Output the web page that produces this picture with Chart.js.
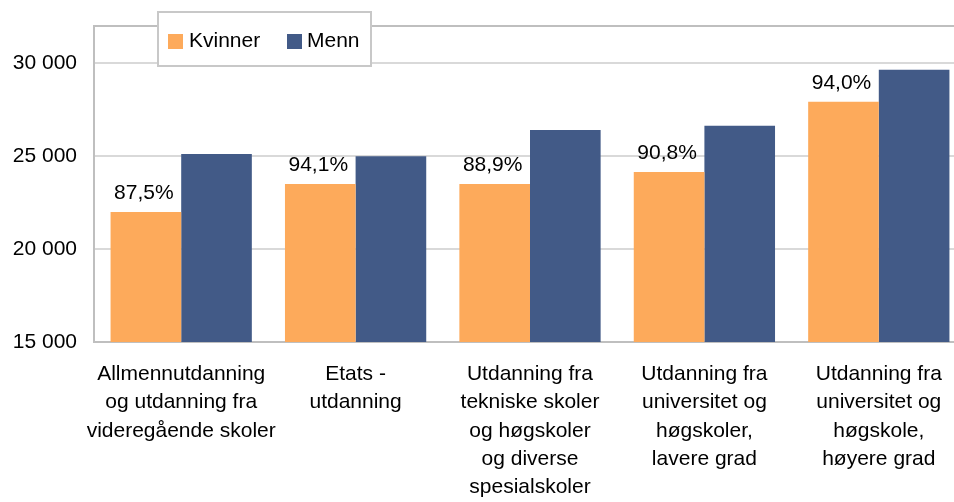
<!DOCTYPE html>
<html>
<head>
<meta charset="utf-8">
<script src="https://cdn.jsdelivr.net/npm/chart.js@4.4.0/dist/chart.umd.min.js"></script>
<style>
    html, body { margin: 0; padding: 0; background: #fff; overflow: hidden; }
    #wrap { width: 966px; height: 502px; }
</style>
</head>
<body>
<div id="wrap"><canvas id="chart"></canvas></div>
<script>
let categories = [
    ["Allmennutdanning", "og utdanning fra", "videregående skoler"],
    ["Etats -", "utdanning"],
    ["Utdanning fra", "tekniske skoler", "og høgskoler", "og diverse", "spesialskoler"],
    ["Utdanning fra", "universitet og", "høgskoler,", "lavere grad"],
    ["Utdanning fra", "universitet og", "høgskole,", "høyere grad"]
];
let kvinner = [22000, 23500, 23500, 24150, 27920];
let menn = [25120, 24990, 26410, 26630, 29650];
let shares = ["87,5%", "94,1%", "88,9%", "90,8%", "94,0%"];
let yTicks = [15000, 20000, 25000, 30000];
let yMin = 15000;
let yMax = 32000;

const FONT = '"Liberation Sans", Arial, sans-serif';
Chart.defaults.font.family = FONT;
Chart.defaults.font.size = 21;
Chart.defaults.color = "#000";

function fmt(v) {
    return String(v).replace(/\B(?=(\d{3})+(?!\d))/g, " ");
}

// percentage labels above the Kvinner bars
const shareLabels = {
    id: "shareLabels",
    afterDatasetsDraw(chart) {
        let ctx = chart.ctx;
        let meta = chart.getDatasetMeta(0);
        ctx.save();
        ctx.font = "21px " + FONT;
        ctx.fillStyle = "#000";
        ctx.textAlign = "center";
        ctx.textBaseline = "alphabetic";
        meta.data.forEach((bar, i) => {
            ctx.fillText(shares[i], bar.x - 2, bar.y - 13);
        });
        ctx.restore();
    }
};

// boxed legend that sits over the top of the plot frame
const boxLegend = {
    id: "boxLegend",
    afterDraw(chart) {
        let ctx = chart.ctx;
        let ds = chart.data.datasets;
        ctx.save();
        ctx.fillStyle = "#fff";
        ctx.fillRect(158, 12, 213, 54);
        ctx.strokeStyle = "#c8c8c8";
        ctx.lineWidth = 2;
        ctx.strokeRect(158, 12, 213, 54);
        ctx.font = "21px " + FONT;
        ctx.textBaseline = "alphabetic";
        ctx.textAlign = "left";
        let items = [[168, 189], [287, 307]];
        ds.forEach((d, i) => {
            ctx.fillStyle = d.backgroundColor;
            ctx.fillRect(items[i][0], 34, 15, 15);
            ctx.fillStyle = "#000";
            ctx.fillText(d.label, items[i][1], 47);
        });
        ctx.restore();
    }
};

new Chart(document.getElementById("chart"), {
    type: "bar",
    data: {
        labels: categories,
        datasets: [
            { label: "Kvinner", data: kvinner, backgroundColor: "#FDAA5B" },
            { label: "Menn", data: menn, backgroundColor: "#425A87" }
        ]
    },
    options: {
        responsive: true,
        maintainAspectRatio: false,
        animation: false,
        layout: { padding: { top: 26, left: 0, right: 0, bottom: 0 } },
        datasets: {
            bar: { categoryPercentage: 0.81, barPercentage: 1.0, borderWidth: 0 }
        },
        plugins: {
            legend: { display: false },
            tooltip: { enabled: false }
        },
        scales: {
            x: {
                grid: { display: false },
                border: { color: "#bfbfbf", width: 2 },
                ticks: {
                    font: { size: 21, lineHeight: 1.35 },
                    padding: 10,
                    maxRotation: 0,
                    autoSkip: false
                },
                afterFit(s) { s.height = 160; }
            },
            y: {
                min: yMin,
                max: yMax,
                border: { color: "#bfbfbf", width: 2 },
                grid: {
                    drawTicks: false,
                    lineWidth: 2,
                    color: (c) => (c.tick && c.tick.value === yMax ? "#bfbfbf" : "#d9d9d9")
                },
                ticks: {
                    padding: 17,
                    font: { size: 21 },
                    callback: (v) => (v === yMax ? "" : fmt(v))
                },
                afterBuildTicks(s) {
                    s.ticks = yTicks.concat([yMax]).map((v) => ({ value: v }));
                },
                afterFit(s) {
                    s.width = 94;
                    s.paddingTop = 0;
                    s.paddingBottom = 0;
                }
            }
        }
    },
    plugins: [shareLabels, boxLegend]
});
</script>
</body>
</html>
